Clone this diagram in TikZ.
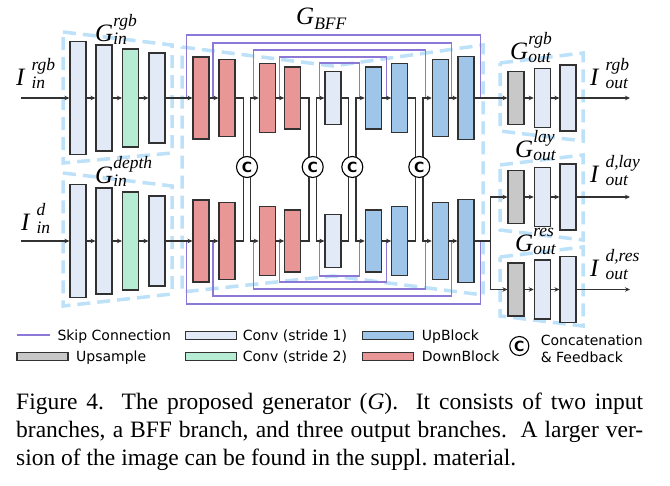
\documentclass[tikz,border=0pt]{standalone}
\usepackage{amsmath}
\usepackage{fontspec}
\setmainfont{Liberation Serif}
\newfontfamily\legendfont{DejaVu Sans}
\usepackage{tikz}
\usetikzlibrary{arrows.meta}

\definecolor{convcol}{RGB}{227,234,247}
\definecolor{stridecol}{RGB}{181,236,211}
\definecolor{downcol}{RGB}{232,150,150}
\definecolor{upcol}{RGB}{159,197,232}
\definecolor{upsmpcol}{RGB}{200,200,200}
\definecolor{skipcol}{RGB}{140,120,215}
\definecolor{branchcol}{RGB}{190,225,250}
\definecolor{wirecol}{RGB}{50,50,50}

\newcommand{\lbl}[4][0pt]{\textit{#2}\hspace{#1}{\fontsize{17.5}{18}\selectfont\itshape\raisebox{-3pt}{\begin{tabular}[b]{@{}l@{}}#3\\#4\end{tabular}}}}

\begin{document}
\begin{tikzpicture}[x=1pt, y=-1pt,
	blk/.style={draw=wirecol, line width=1.1pt, minimum width=16, inner sep=0pt},
	convblk/.style={blk, fill=convcol},
	strideblk/.style={blk, fill=stridecol},
	downblk/.style={blk, fill=downcol},
	upblk/.style={blk, fill=upcol},
	upsblk/.style={blk, fill=upsmpcol},
	concat/.style={circle, draw=black, line width=1.1pt, fill=white, minimum size=21, inner sep=0pt, font=\legendfont\bfseries\fontsize{14}{14}\selectfont},
	wire/.style={draw=wirecol, line width=1.2pt},
	flow/.style={wire, -{Stealth[length=5pt, width=4.5pt]}},
	skipline/.style={draw=skipcol, line width=1.5pt},
	branch/.style={draw=branchcol, line width=3.5pt, dash pattern=on 13pt off 7pt},
	lab/.style={font=\fontsize{25}{30}\selectfont, anchor=base west, inner sep=0pt},
	legtext/.style={font=\legendfont\fontsize{14}{16}\selectfont, anchor=base west, inner sep=0pt},
	legbox/.style={draw=wirecol, line width=1.1pt, minimum width=51, minimum height=8, inner sep=0pt}]

	\path[use as bounding box, fill=white] (0,0) rectangle (670,486);

	\draw[branch] (63,32) -- (172,45) -- (172,153) -- (63,163) -- cycle;
	\draw[branch] (63,173) -- (172,186) -- (172,294) -- (63,306) -- cycle;
	\draw[branch] (182,47) -- (333,66) -- (483,45) -- (483,295) -- (333,276) -- (182,292) -- cycle;
	\draw[branch] (500,63) -- (583,53) -- (583,141) -- (500,131) -- cycle;
	\draw[branch] (500,165) -- (583,155) -- (583,240) -- (500,230) -- cycle;
	\draw[branch] (500,257) -- (583,247) -- (583,326) -- (500,316) -- cycle;

	\node[convblk, minimum height=113] (irgb1) at (78,98) {};
	\node[convblk, minimum height=106] (irgb2) at (104,98) {};
	\node[strideblk, minimum height=98] (irgb3) at (130.5,98) {};
	\node[convblk, minimum height=90] (irgb4) at (157,98) {};

	\node[convblk, minimum height=113] (idep1) at (78,241) {};
	\node[convblk, minimum height=106] (idep2) at (104,241) {};
	\node[strideblk, minimum height=98] (idep3) at (130.5,241) {};
	\node[convblk, minimum height=90] (idep4) at (157,241) {};

	\node[downblk, minimum height=82] (dt1) at (201,98) {};
	\node[downblk, minimum height=77] (dt2) at (227,98) {};
	\node[downblk, minimum height=69] (dt3) at (267.3,98) {};
	\node[downblk, minimum height=62] (dt4) at (292.7,98) {};
	\node[convblk, minimum height=53] (mt) at (333,98) {};
	\node[upblk, minimum height=62] (ut1) at (373.3,98) {};
	\node[upblk, minimum height=69] (ut2) at (399.7,98) {};
	\node[upblk, minimum height=77] (ut3) at (440.3,98) {};
	\node[upblk, minimum height=83] (ut4) at (466,98) {};

	\node[downblk, minimum height=82] (db1) at (201,241) {};
	\node[downblk, minimum height=77] (db2) at (227,241) {};
	\node[downblk, minimum height=69] (db3) at (267.3,241) {};
	\node[downblk, minimum height=62] (db4) at (292.7,241) {};
	\node[convblk, minimum height=53] (mb) at (333,241) {};
	\node[upblk, minimum height=62] (ub1) at (373.3,241) {};
	\node[upblk, minimum height=69] (ub2) at (399.7,241) {};
	\node[upblk, minimum height=77] (ub3) at (440.3,241) {};
	\node[upblk, minimum height=83] (ub4) at (466,241) {};

	\node[concat] (c1) at (247,167) {C};
	\node[concat] (c2) at (312.7,167) {C};
	\node[concat] (c3) at (352.3,167) {C};
	\node[concat] (c4) at (419.3,167) {C};

	\node[upsblk, minimum height=53] (orgb1) at (516,98) {};
	\node[convblk, minimum height=59] (orgb2) at (542.3,98) {};
	\node[convblk, minimum height=66] (orgb3) at (568,98) {};
	\node[upsblk, minimum height=53] (olay1) at (516,197) {};
	\node[convblk, minimum height=59] (olay2) at (542.3,197) {};
	\node[convblk, minimum height=66] (olay3) at (568,197) {};
	\node[upsblk, minimum height=53] (ores1) at (516,289.5) {};
	\node[convblk, minimum height=59] (ores2) at (542.3,289.5) {};
	\node[convblk, minimum height=66] (ores3) at (568,289.5) {};

	\coordinate (inrgb) at (21,98);
	\coordinate (indep) at (21,241);
	\coordinate (fork) at (490.7,241);
	\coordinate (outrgb) at (630,98);
	\coordinate (outlay) at (630,197);
	\coordinate (outres) at (630,289.5);

	\draw[skipline] ([xshift=-6]dt1.west) -- ++(0,-63) -| ([xshift=6]ut4.east);
	\draw[skipline] ([xshift=-5.3]dt2.west) -- ++(0,-55) -| ([xshift=-6]ut4.west);
	\draw[skipline] ([xshift=-5.3]dt3.west) -- ++(0,-48) -| ([xshift=-6.3]ut3.west);
	\draw[skipline] ([xshift=-4.7]dt4.west) -- ++(0,-41) -| ([xshift=-4.7]ut2.west);
	\draw[skipline] ([xshift=-5]mt.west) -- ++(0,-35) -| ([xshift=-5.3]ut1.west);

	\draw[skipline] ([xshift=-6]db1.west) -- ++(0,63) -| ([xshift=6]ub4.east);
	\draw[skipline] ([xshift=-5.3]db2.west) -- ++(0,55) -| ([xshift=-6]ub4.west);
	\draw[skipline] ([xshift=-5.3]db3.west) -- ++(0,48) -| ([xshift=-6.3]ub3.west);
	\draw[skipline] ([xshift=-4.7]db4.west) -- ++(0,41) -| ([xshift=-4.7]ub2.west);
	\draw[skipline] ([xshift=-5]mb.west) -- ++(0,35) -| ([xshift=-5.3]ub1.west);

	\draw[flow] (inrgb) -- (irgb1.west);
	\draw[flow] (irgb1.east) -- (irgb2.west);
	\draw[flow] (irgb2.east) -- (irgb3.west);
	\draw[flow] (irgb3.east) -- (irgb4.west);
	\draw[flow] (irgb4.east) -- (dt1.west);
	\draw[flow] (dt1.east) -- (dt2.west);
	\draw[wire] (dt2.east) -| (c1.110);
	\draw[flow] (c1.70) |- (dt3.west);
	\draw[flow] (dt3.east) -- (dt4.west);
	\draw[wire] (dt4.east) -| (c2.110);
	\draw[flow] (c2.70) |- (mt.west);
	\draw[wire] (mt.east) -| (c3.110);
	\draw[flow] (c3.70) |- (ut1.west);
	\draw[flow] (ut1.east) -- (ut2.west);
	\draw[wire] (ut2.east) -| (c4.110);
	\draw[flow] (c4.70) |- (ut3.west);
	\draw[flow] (ut3.east) -- (ut4.west);
	\draw[flow] (ut4.east) -- (orgb1.west);
	\draw[flow] (orgb1.east) -- (orgb2.west);
	\draw[flow] (orgb2.east) -- (orgb3.west);
	\draw[flow] (orgb3.east) -- (outrgb);

	\draw[flow] (indep) -- (idep1.west);
	\draw[flow] (idep1.east) -- (idep2.west);
	\draw[flow] (idep2.east) -- (idep3.west);
	\draw[flow] (idep3.east) -- (idep4.west);
	\draw[flow] (idep4.east) -- (db1.west);
	\draw[flow] (db1.east) -- (db2.west);
	\draw[wire] (db2.east) -| (c1.250);
	\draw[flow] (c1.290) |- (db3.west);
	\draw[flow] (db3.east) -- (db4.west);
	\draw[wire] (db4.east) -| (c2.250);
	\draw[flow] (c2.290) |- (mb.west);
	\draw[wire] (mb.east) -| (c3.250);
	\draw[flow] (c3.290) |- (ub1.west);
	\draw[flow] (ub1.east) -- (ub2.west);
	\draw[wire] (ub2.east) -| (c4.250);
	\draw[flow] (c4.290) |- (ub3.west);
	\draw[flow] (ub3.east) -- (ub4.west);
	\draw[wire] (ub4.east) -- (fork);
	\draw[flow] (fork) |- (olay1.west);
	\draw[flow] (fork) |- (ores1.west);
	\draw[flow] (olay1.east) -- (olay2.west);
	\draw[flow] (olay2.east) -- (olay3.west);
	\draw[flow] (olay3.east) -- (outlay);
	\draw[flow] (ores1.east) -- (ores2.west);
	\draw[flow] (ores2.east) -- (ores3.west);
	\draw[flow] (ores3.east) -- (outres);

	\node[lab] (lirgb) at (16,86) {\lbl[6pt]{I}{rgb}{in}};
	\node[lab] (lidep) at (21,231) {\lbl[6pt]{I}{d}{in}};
	\node[lab] (lgirgb) at (95,41.7) {\lbl{G}{rgb}{in}};
	\node[lab] (lgidep) at (95,183.3) {\lbl{G}{depth}{in}};
	\node[lab] (lgbff) at (296,25) {\textit{G}\raisebox{-5pt}{\fontsize{17.5}{18}\selectfont\textit{BFF}}};
	\node[lab] (lgorgb) at (510,60) {\lbl{G}{rgb}{out}};
	\node[lab] (lgolay) at (515,157.5) {\lbl{G}{lay}{out}};
	\node[lab] (lgores) at (515,252) {\lbl{G}{res}{out}};
	\node[lab] (lorgb) at (590,86) {\lbl[6pt]{I}{rgb}{out}};
	\node[lab] (lolay) at (590,183) {\lbl[6pt]{I}{d,lay}{out}};
	\node[lab] (lores) at (590,277) {\lbl[6pt]{I}{d,res}{out}};

	\coordinate (lgskipa) at (16.7,335);
	\coordinate (lgskipb) at (50,335);
	\draw[skipline] (lgskipa) -- (lgskipb);
	\node[legtext] (lgskip) at (57.3,340.5) {Skip Connection};
	\node[legbox, fill=upsmpcol] (lgups) at (42.5,356.7) {};
	\node[legtext] (lgupst) at (76,362) {Upsample};
	\node[legbox, fill=convcol] (lgconv) at (210.8,335.5) {};
	\node[legtext] (lgconvt) at (242.7,340.5) {Conv (stride 1)};
	\node[legbox, fill=stridecol] (lgstride) at (210.8,356.7) {};
	\node[legtext] (lgstridet) at (242.7,362) {Conv (stride 2)};
	\node[legbox, fill=upcol] (lgup) at (388.3,335.5) {};
	\node[legtext] (lgupt) at (421.7,340.5) {UpBlock};
	\node[legbox, fill=downcol] (lgdown) at (388.3,356.7) {};
	\node[legtext] (lgdownt) at (421.7,362) {DownBlock};
	\node[concat, minimum size=19] (lgcat) at (519.3,346) {C};
	\node[legtext] (lgcatt) at (540.6,345.5) {Concatenation};
	\node[legtext] (lgcatf) at (540.6,363) {\& Feedback};

	\node[anchor=base west, inner sep=0pt, font=\fontsize{23.5}{27.5}\selectfont] (caption) at (16,410) {\parbox[t]{627pt}{Figure 4.\ \ The proposed generator (\textit{G}).\ \ It consists of two input\linebreak branches, a BFF branch, and three output branches.\ \ A larger ver-\linebreak sion of the image can be found in the suppl.\ material.}};

\end{tikzpicture}
\end{document}
